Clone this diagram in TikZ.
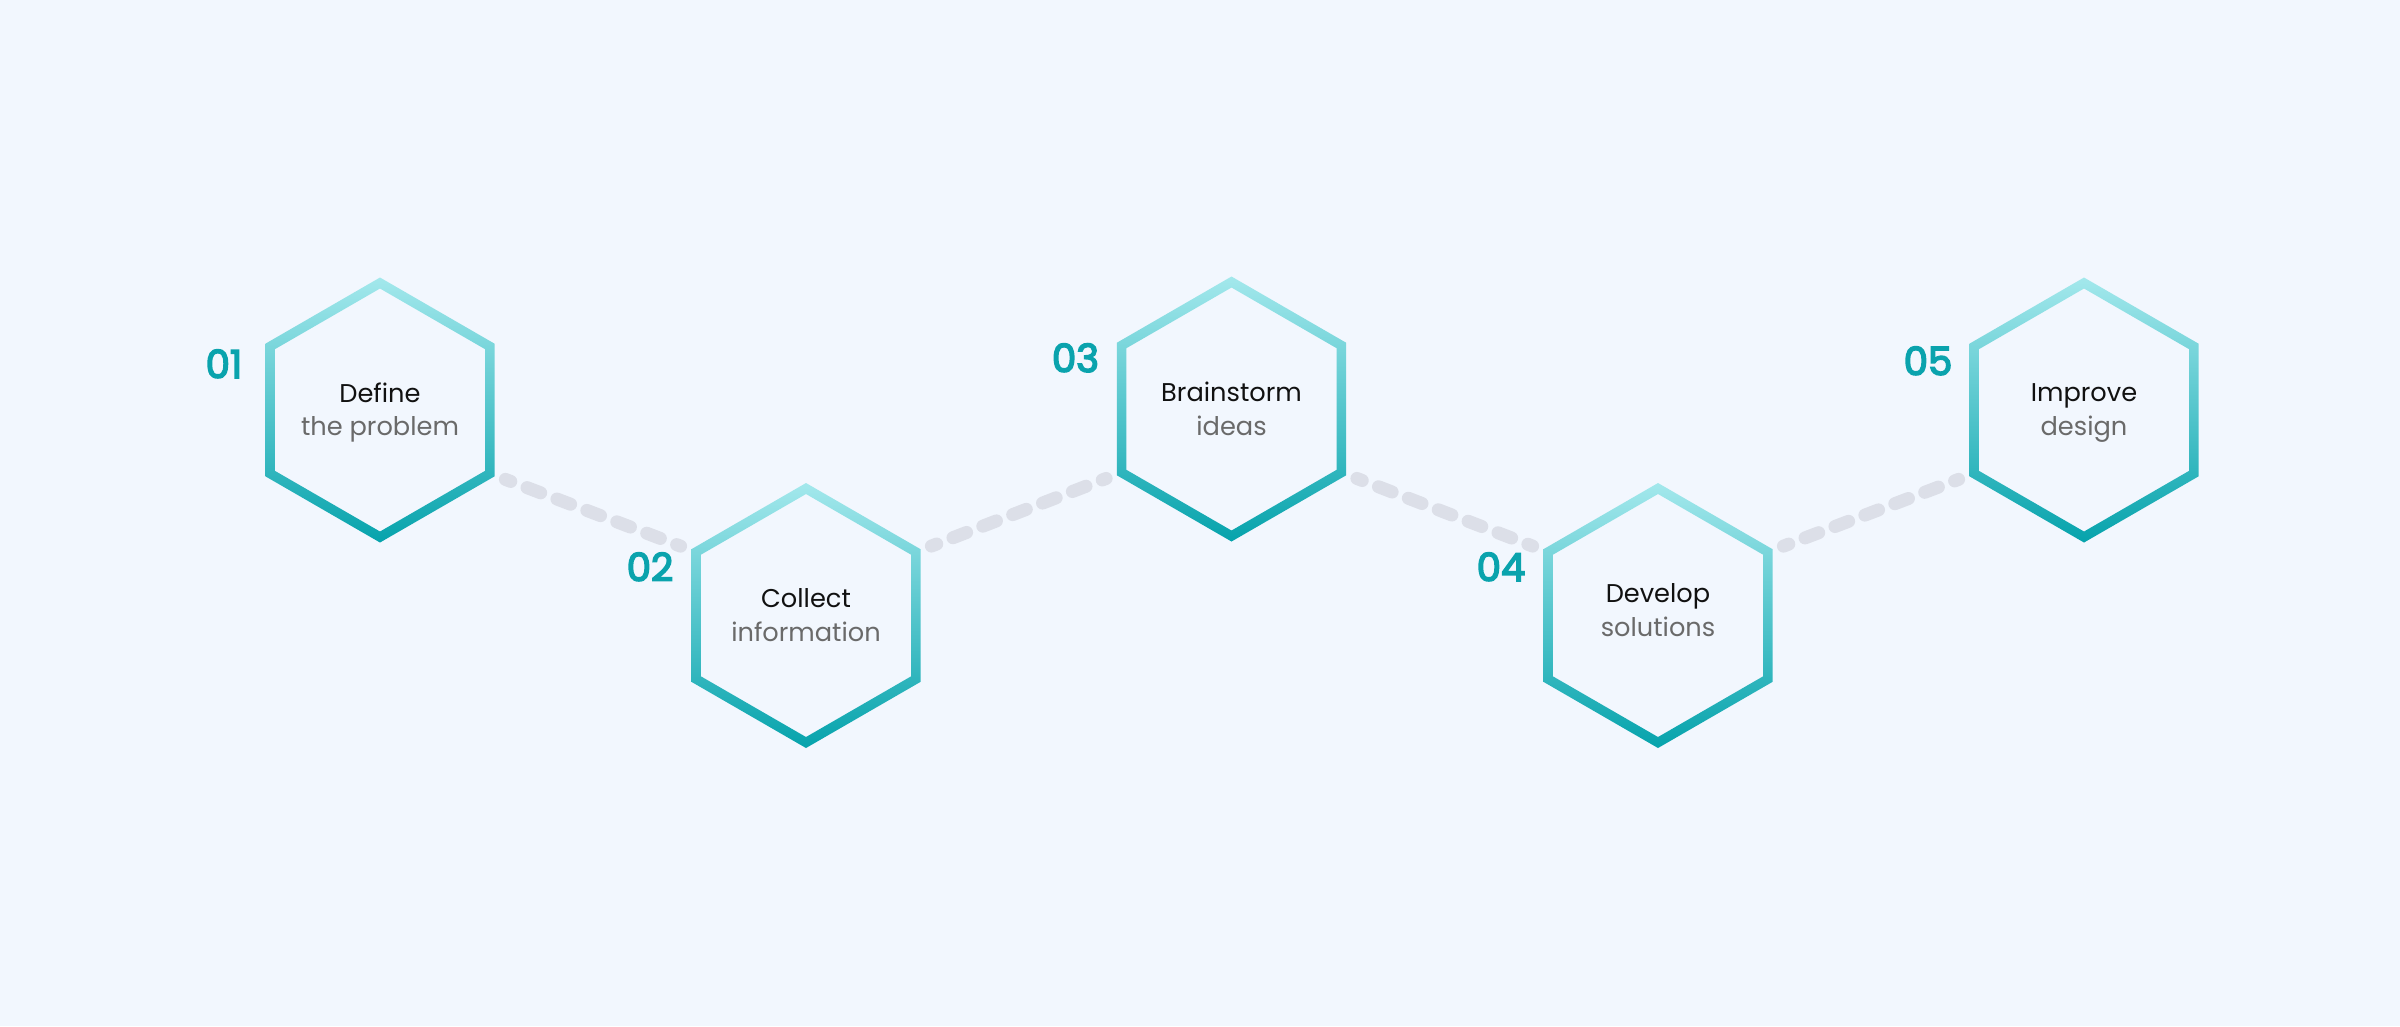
\documentclass[tikz,border=0pt]{standalone}
\usepackage{fontspec}
\setmainfont{Poppins}
\newfontfamily\numfont{Poppins}[FakeBold=4]
\usetikzlibrary{calc}
\definecolor{bgC}{HTML}{F2F7FE}
\definecolor{hexTop}{HTML}{A3E8EC}
\definecolor{hexBot}{HTML}{06A3AC}
\definecolor{numC}{HTML}{0AA3AD}
\definecolor{titleC}{HTML}{111111}
\definecolor{subC}{HTML}{6A6A6A}
\definecolor{dashC}{HTML}{DCDFE8}
\newcommand\hexring[1]{%
  \shade[ring, shift={(#1)}]
    (0,-132.5) -- (114.7,-66.25) -- (114.7,66.25) -- (0,132.5) -- (-114.7,66.25) -- (-114.7,-66.25) -- cycle
    (0,-121.5) -- (105.2,-60.75) -- (105.2,60.75) -- (0,121.5) -- (-105.2,60.75) -- (-105.2,-60.75) -- cycle;}
\begin{document}
\begin{tikzpicture}[x=0.01cm, y=-0.01cm,
  ring/.style={even odd rule, top color=hexTop, bottom color=hexBot},
  title/.style={anchor=base, inner sep=0pt, text=titleC, font=\fontsize{7.3}{9}\selectfont},
  sub/.style={anchor=base, inner sep=0pt, text=subC, font=\fontsize{7.3}{9}\selectfont},
  num/.style={anchor=base, inner sep=0pt, text=numC, font=\fontsize{11}{13}\selectfont\numfont},
  link/.style={draw=dashC, line width=0.13cm, line cap=round,
    dash pattern=on 0.146cm off 0.174cm, dash phase=0.089cm,
    shorten >=0.165cm, shorten <=0.165cm}]
\fill[bgC] (0,0) rectangle (2400,1026);
\useasboundingbox (0,0) rectangle (2400,1026);

% centres
\coordinate (c1) at (380,410);
\coordinate (c2) at (806,615.5);
\coordinate (c3) at (1231.5,409);
\coordinate (c4) at (1658,615.5);
\coordinate (c5) at (2084,410);

% vertices used by the connectors
\coordinate (v1se) at ($(c1)+(110,63.5)$);
\coordinate (v2nw) at ($(c2)+(-110,-63.5)$);
\coordinate (v2ne) at ($(c2)+(110,-63.5)$);
\coordinate (v3sw) at ($(c3)+(-110,63.5)$);
\coordinate (v3se) at ($(c3)+(110,63.5)$);
\coordinate (v4nw) at ($(c4)+(-110,-63.5)$);
\coordinate (v4ne) at ($(c4)+(110,-63.5)$);
\coordinate (v5sw) at ($(c5)+(-110,63.5)$);

% connectors
\draw[link] (v1se) -- (v2nw);
\draw[link] (v2ne) -- (v3sw);
\draw[link] (v3se) -- (v4nw);
\draw[link] (v4ne) -- (v5sw);

% hexagons
\hexring{c1}
\hexring{c2}
\hexring{c3}
\hexring{c4}
\hexring{c5}

% texts
\node[title] (t1) at ($(c1)+(0,-8)$) {Define};
\node[sub]   (s1) at ($(c1)+(0,25.5)$) {the problem};
\node[num]   (n1) at ($(c1)+(-156,-32)$) {01};

\node[title] (t2) at ($(c2)+(0,-8.5)$) {Collect};
\node[sub]   (s2) at ($(c2)+(0,26)$) {information};
\node[num]   (n2) at ($(c2)+(-156,-34.5)$) {02};

\node[title] (t3) at ($(c3)+(0,-7.5)$) {Brainstorm};
\node[sub]   (s3) at ($(c3)+(0,26)$) {ideas};
\node[num]   (n3) at ($(c3)+(-156,-37)$) {03};

\node[title] (t4) at ($(c4)+(0,-13)$) {Develop};
\node[sub]   (s4) at ($(c4)+(0,20.5)$) {solutions};
\node[num]   (n4) at ($(c4)+(-157,-34.5)$) {04};

\node[title] (t5) at ($(c5)+(0,-8.5)$) {Improve};
\node[sub]   (s5) at ($(c5)+(0,25)$) {design};
\node[num]   (n5) at ($(c5)+(-156,-35)$) {05};
\end{tikzpicture}
\end{document}
